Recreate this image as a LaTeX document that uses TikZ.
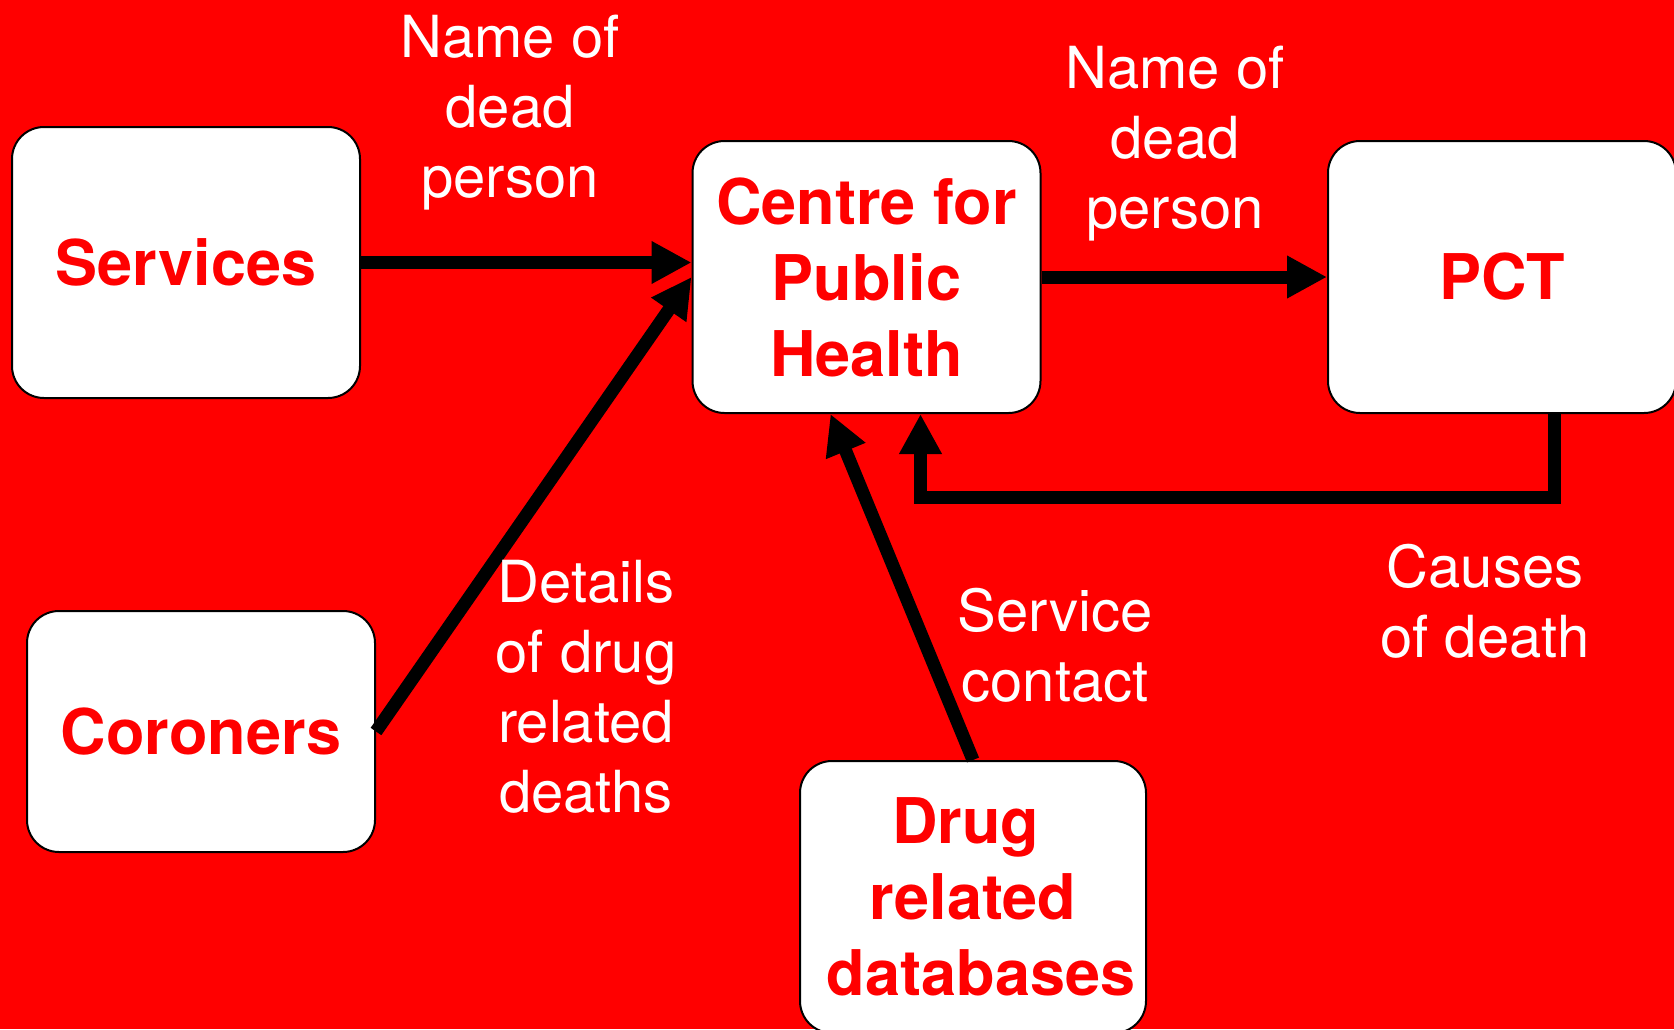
\documentclass[tikz,border=0pt]{standalone}
\usepackage{fontspec}
\setmainfont{TeX Gyre Heros}
\usetikzlibrary{arrows.meta}
\definecolor{bgred}{RGB}{255,0,0}
\begin{document}
\begin{tikzpicture}[x=1pt,y=-1pt,
 box/.style={draw=black, line width=2pt, fill=white, rounded corners=32pt,
   minimum width=348pt, minimum height=272pt, inner sep=0pt, align=center,
   text=bgred, font=\fontsize{63}{76}\selectfont\bfseries},
 lbl/.style={text=white, align=center, font=\fontsize{58}{70}\selectfont, inner sep=0pt},
 arr/.style={draw=black, line width=13pt, -{Triangle[length=40pt,width=40pt]}}]
\fill[bgred] (0,0) rectangle (1674,1029);
\useasboundingbox (0,0) rectangle (1674,1029);

\node[box, minimum height=271pt] (services) at (186,262.5) {Services};
\node[box] (centre) at (866.5,277) {Centre for\\Public\\Health};
\node[box] (pct) at (1502,277) {PCT};
\node[box, minimum height=241pt] (coroners) at (201,731.5) {Coroners};
\node[box, minimum width=346pt] (drug) at (973,897) {\hspace*{-15pt}Drug\\related\\\hspace*{16pt}databases};

\draw[arr] (services.east) -- (centre.west |- services.east);
\draw[arr] (centre.east) -- (pct.west);
\draw[arr] (coroners.east) -- (centre.west);
\draw[arr] (drug.north) -- ([xshift=-36pt]centre.south);
\draw[arr] ([xshift=52pt]pct.south) -- ++(0,83) -| ([xshift=54pt]centre.south);

\node[lbl] (l1) at (510,112.5) {Name of\\dead\\person};
\node[lbl] (l2) at (1175,143.5) {Name of\\dead\\person};
\node[lbl] (l3) at (586,687) {Details\\of drug\\related\\deaths};
\node[lbl] (l4) at (1055,645) {Service\\contact};
\node[lbl] (l5) at (1485,601) {Causes\\of death};
\end{tikzpicture}
\end{document}
